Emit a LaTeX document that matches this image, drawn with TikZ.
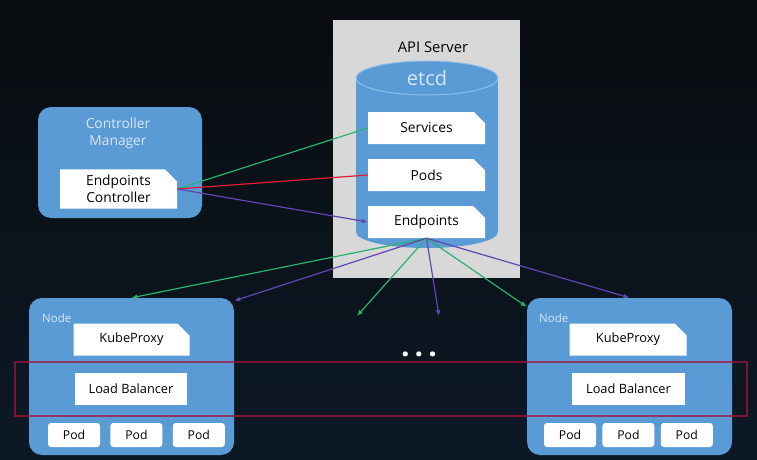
\documentclass[tikz,border=0pt]{standalone}
\usepackage{fontspec}
\setmainfont{Open Sans}
\usetikzlibrary{arrows.meta,positioning,shapes.misc,shapes.geometric}
\definecolor{bgtop}{RGB}{9,12,16}
\definecolor{bgbot}{RGB}{12,25,37}
\definecolor{apigray}{RGB}{216,216,216}
\definecolor{boxblue}{RGB}{91,155,213}
\definecolor{caprim}{RGB}{140,190,235}
\definecolor{paletext}{RGB}{215,230,247}
\definecolor{lgreen}{RGB}{40,178,110}
\definecolor{lred}{RGB}{228,28,52}
\definecolor{lpurple}{RGB}{98,68,178}
\definecolor{lbred}{RGB}{160,20,60}

\begin{document}
\begin{tikzpicture}[x=1pt,y=-1pt,
	panel/.style={fill=boxblue, rounded corners=13pt, inner sep=0pt},
	paper/.style={shape=chamfered rectangle, chamfered rectangle corners=north east, chamfered rectangle xsep=6pt, chamfered rectangle ysep=6pt, fill=white, inner sep=0pt, font=\fontsize{13.8}{16.5}\selectfont},
	podbox/.style={fill=white, rounded corners=3pt, minimum width=52pt, minimum height=24pt, inner sep=0pt, font=\fontsize{12.2}{13}\selectfont},
	nodelabel/.style={text=paletext, font=\fontsize{11.5}{13}\selectfont, inner sep=0pt, anchor=west},
	glink/.style={draw=lgreen, line width=1.2pt, -{Latex[length=6pt,width=5pt]}},
	plink/.style={draw=lpurple, line width=1.2pt, -{Latex[length=6pt,width=5pt]}},
	rlink/.style={draw=lred, line width=1.2pt},
	lbframe/.style={draw=lbred, draw opacity=.75, line width=1.3pt, minimum width=732pt, minimum height=54pt, inner sep=0pt},
]
\useasboundingbox (0,0) rectangle (757,460);
\fill[top color=bgtop, bottom color=bgbot] (0,0) rectangle (757,460);

\node[fill=apigray, minimum width=187pt, minimum height=258pt, inner sep=0pt] (api) at (426.5,149) {};
\node[font=\fontsize{14.8}{16}\selectfont, inner sep=0pt] (apititle) at (433,47) {API Server};

\node[ellipse, fill=boxblue, minimum width=142pt, minimum height=32pt, inner sep=0pt] (cylbase) at (427,232) {};
\fill[boxblue] (cylbase.west) rectangle ++(142,-154);
\node[ellipse, fill=boxblue, draw=caprim, line width=1pt, minimum width=142pt, minimum height=34pt, inner sep=0pt, text=paletext, font=\fontsize{20}{21}\selectfont] (etcd) at (427,78) {etcd};

\node[paper, minimum width=117pt, minimum height=32pt] (services) at (426.5,128) {Services};
\node[paper, minimum width=117pt, minimum height=32pt] (pods) at (426.5,175) {Pods};
\node[paper, minimum width=117pt, minimum height=32pt] (endpoints) at (426.5,222) {Endpoints};

\node[panel, minimum width=164pt, minimum height=111pt] (cm) at (120,162.5) {};
\node[text=paletext, align=center, font=\fontsize{13.8}{17}\selectfont] (cmtitle) at (118,133) {Controller\\Manager};
\node[paper, minimum width=117pt, minimum height=34pt, align=center] (epc) at (118.5,189) {Endpoints\\Controller};

\node[panel, minimum width=205pt, minimum height=157pt] (node1) at (131.5,376.5) {};
\node[nodelabel] (node1lbl) at (42,318) {Node};
\node[paper, minimum width=116pt, minimum height=32pt, font=\fontsize{12.8}{14}\selectfont] (kp1) at (131.5,339.5) {KubeProxy};
\node[fill=white, minimum width=112pt, minimum height=32pt, inner sep=0pt, font=\fontsize{12.8}{14}\selectfont] (lb1) at (131,389) {Load Balancer};
\node[podbox] (pod11) at (74,435) {Pod};
\node[podbox, right=10pt of pod11] (pod12) {Pod};
\node[podbox, right=10pt of pod12] (pod13) {Pod};

\node[panel, minimum width=205pt, minimum height=157pt] (node2) at (629.5,376.5) {};
\node[nodelabel] (node2lbl) at (539,318) {Node};
\node[paper, minimum width=117pt, minimum height=32pt, font=\fontsize{12.8}{14}\selectfont] (kp2) at (628,339.5) {KubeProxy};
\node[fill=white, minimum width=113pt, minimum height=32pt, inner sep=0pt, font=\fontsize{12.8}{14}\selectfont] (lb2) at (628.5,389) {Load Balancer};
\node[podbox] (pod21) at (570,435) {Pod};
\node[podbox, right=6pt of pod21] (pod22) {Pod};
\node[podbox, right=6pt of pod22] (pod23) {Pod};

\node[text=white, font=\bfseries\fontsize{30}{30}\selectfont, inner sep=0pt] (more) at (419,354) {.\,.\,.};

\coordinate (gfree) at (357,316);
\coordinate (pfree) at (439,316);

\draw[glink,-] (epc.east) -- (services.west);
\draw[rlink] (epc.east) -- (pods.west);
\draw[plink] (epc.east) -- (endpoints.west);

\draw[glink] (endpoints.south) -- (node1.north);
\draw[plink] (endpoints.south) -- ([yshift=-3pt]node1.north east);
\draw[glink] (endpoints.south) -- (gfree);
\draw[plink] (endpoints.south) -- (pfree);
\draw[glink] (endpoints.south) -- ([yshift=-9pt]node2.north west);
\draw[plink] (endpoints.south) -- (node2.north);

\node[lbframe] (lbzone) at (381,389) {};
\end{tikzpicture}
\end{document}
